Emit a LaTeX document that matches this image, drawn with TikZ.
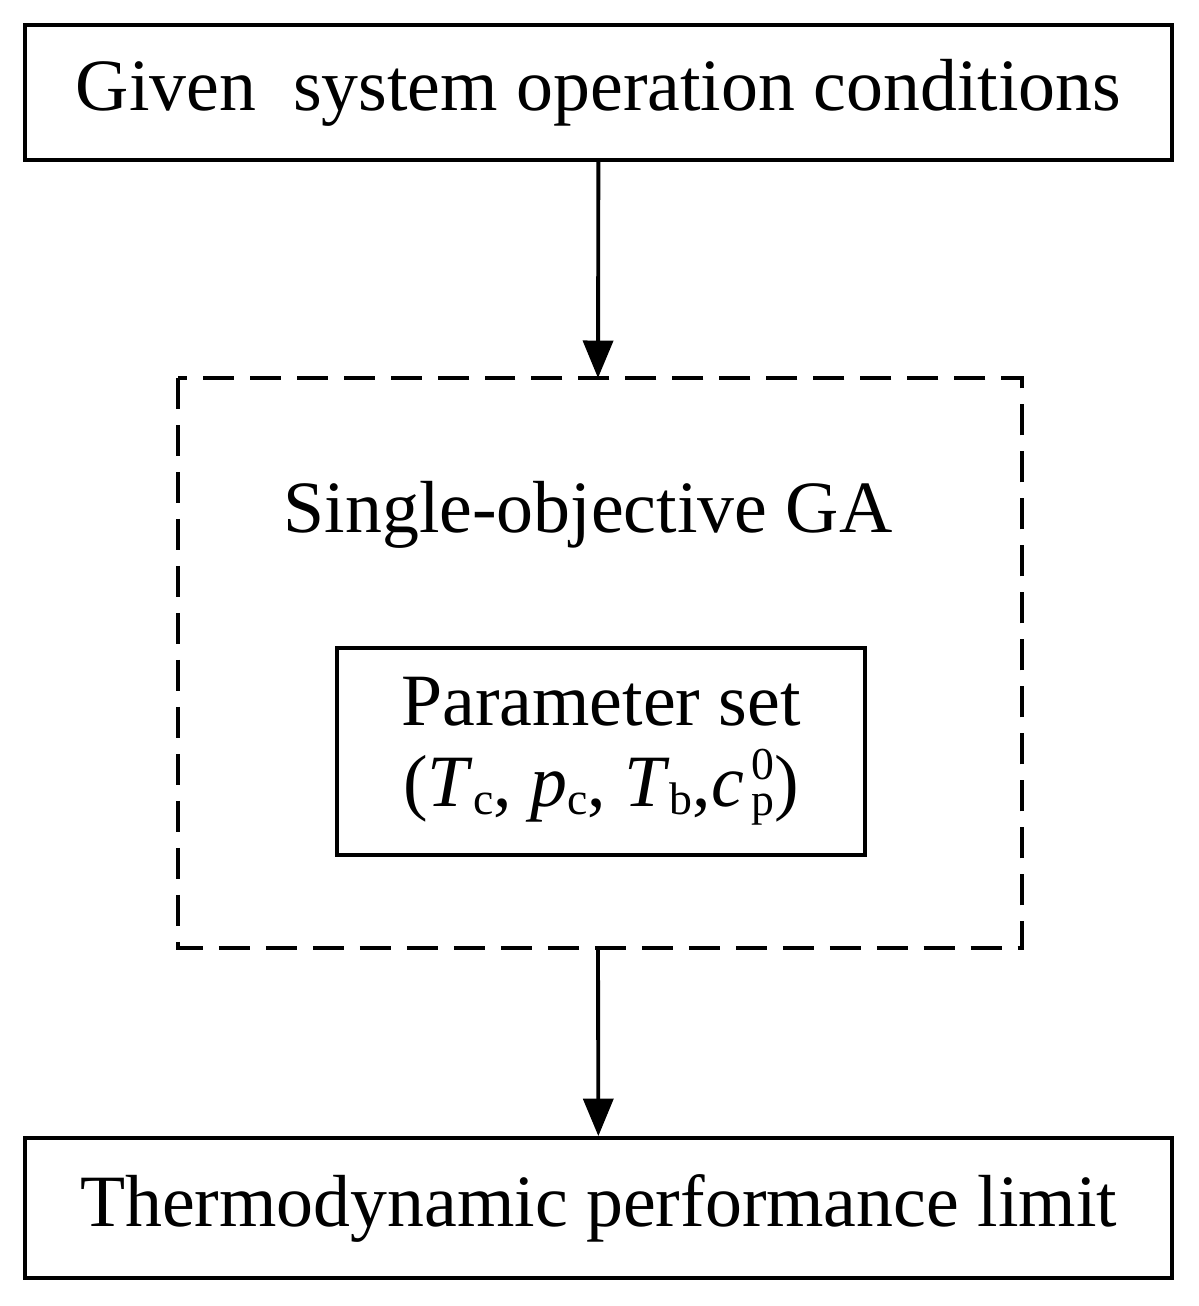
\documentclass[tikz,border=0pt]{standalone}
\usepackage{fontspec}
\setmainfont{Liberation Serif}
\usetikzlibrary{arrows.meta,positioning}
\newcommand{\sym}[2]{\textit{#1}\raisebox{-0.25ex}{\fontsize{26}{30}\selectfont #2}}
\newcommand{\subsup}[2]{{\fontsize{26}{30}\selectfont\,\rlap{\raisebox{1.3ex}{#2}}\raisebox{-0.45ex}{#1}}}
\tikzset{
  box/.style={draw, line width=2.2pt, minimum height=2.7cm, align=center, font=\fontsize{42}{50}\selectfont},
  flow/.style={line width=2.2pt, -{Triangle[length=0.75cm,width=0.6cm]}}
}
\begin{document}
\begin{tikzpicture}[x=0.02cm,y=-0.02cm]
        \useasboundingbox (0,0) rectangle (1198,1306);
        \node[box, minimum width=22.94cm] (given) at (598.5,92.5) {Given\ \ system operation conditions};
        \draw[line width=2.2pt, dash pattern=on 0.62cm off 0.32cm] (178,378) rectangle (1022,948);
        \coordinate (gatop) at (598,378);
        \coordinate (gabot) at (598,948);
        \node[font=\fontsize{42}{50}\selectfont] (ga) at (588,515) {Single-objective GA};
        \node[box, minimum width=10.56cm, minimum height=4.14cm] (param) at (601,751.5)
            {Parameter set\\[-4pt](\sym{T}{c}, \sym{p}{c}, \sym{T}{b},\textit{c}\subsup{p}{0})};
        \node[box, minimum width=22.94cm, minimum height=2.8cm] (limit) at (598.5,1208) {Thermodynamic performance limit};
        \draw[flow] (given) -- (gatop);
        \draw[flow] (gabot) -- (limit);
\end{tikzpicture}
\end{document}
